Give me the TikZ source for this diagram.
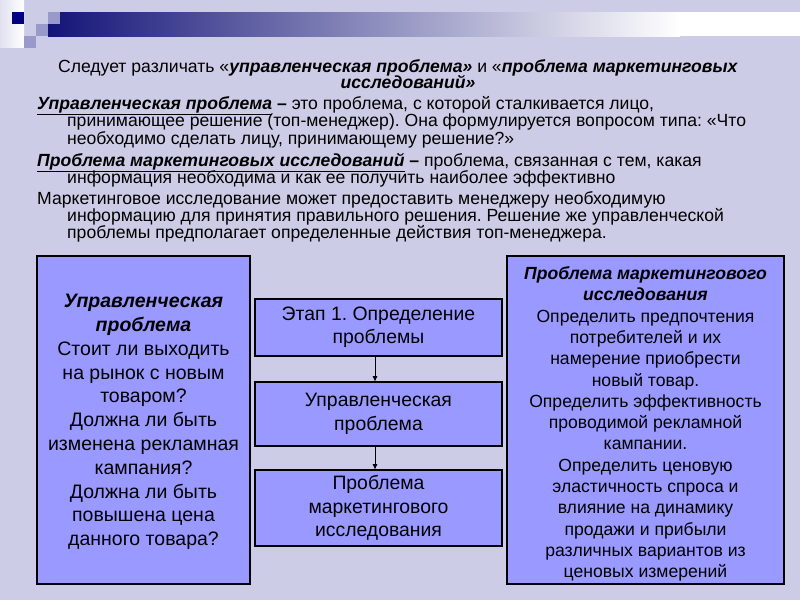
\documentclass[tikz,border=0pt]{standalone}
\usepackage{fontspec}
\setmainfont{Liberation Sans}
\usetikzlibrary{arrows.meta}
\frenchspacing
\definecolor{bg}{RGB}{204,204,230}
\definecolor{boxfill}{RGB}{153,153,255}
\definecolor{navyblue}{RGB}{20,20,120}
\definecolor{sqnavy}{RGB}{0,0,128}
\definecolor{sqpurple}{RGB}{153,153,204}
\newcommand{\bi}[1]{\textbf{\textit{#1}}}
\begin{document}
\begin{tikzpicture}[x=1pt,y=-1pt,
  toptext/.style={anchor=base west,inner sep=0pt,font=\fontsize{17.6}{20}\selectfont},
  topcenter/.style={anchor=base,inner sep=0pt,font=\fontsize{17.6}{20}\selectfont},
  bigbox/.style={draw=black,line width=2.6pt,fill=boxfill,inner sep=0pt},
  midbox/.style={draw=black,line width=1.8pt,fill=boxfill,inner sep=0pt,minimum width=247pt,align=center,font=\fontsize{19.4}{23.4}\selectfont},
  flow/.style={draw=black,line width=0.8pt,-{Triangle[length=5pt,width=4.5pt]}}
]
\useasboundingbox (0,0) rectangle (800,600);
\fill[bg] (0,0) rectangle (800,600);
% decoration
\shade[left color=bg!60!white,right color=white] (0,0) rectangle (24,47);
\shade[left color=navyblue,right color=white] (48,12) rectangle (680,36);
\fill[white] (680,12) rectangle (800,36);
\fill[sqnavy] (12,12) rectangle (24,24);
\fill[sqpurple] (48,12) rectangle (60,24);
\fill[sqpurple] (36,24) rectangle (48,36);
\fill[sqpurple] (24,36) rectangle (36,48);
% top text
\node[topcenter] (t1) at (398,72) {Следует различать «\bi{управленческая проблема»} и «\bi{проблема маркетинговых}};
\node[topcenter] (t2) at (408,88) {\bi{исследований»}};
\node[toptext] (t3) at (37,109) {\underline{\bi{Управленческая проблема}}\textbf{ –} это проблема, с которой сталкивается лицо,};
\node[toptext] (t4) at (67,126) {принимающее решение (топ-менеджер). Она формулируется вопросом типа: «Что};
\node[toptext] (t5) at (67,144) {необходимо сделать лицу, принимающему решение?»};
\node[toptext] (t6) at (37,166) {\underline{\bi{Проблема маркетинговых исследований}}\textbf{ –} проблема, связанная с тем, какая};
\node[toptext] (t7) at (67,183) {информация необходима и как ее получить наиболее эффективно};
\node[toptext] (t8) at (37,204) {Маркетинговое исследование может предоставить менеджеру необходимую};
\node[toptext] (t9) at (67,221) {информацию для принятия правильного решения. Решение же управленческой};
\node[toptext] (t10) at (67,238) {проблемы предполагает определенные действия топ-менеджера.};
% big boxes
\node[bigbox,minimum width=213pt,minimum height=328pt] (left) at (143.5,420) {};
\node[align=center,font=\fontsize{19.5}{23.8}\selectfont] (lefttext) at (143.5,422) {\bi{Управленческая}\\\bi{проблема}\\Стоит ли выходить\\на рынок с новым\\товаром?\\Должна ли быть\\изменена рекламная\\кампания?\\Должна ли быть\\повышена цена\\данного товара?};
\node[bigbox,minimum width=277pt,minimum height=328pt] (right) at (645.5,420) {};
\node[align=center,font=\fontsize{17.6}{21.3}\selectfont] (righttext) at (645.5,424) {\bi{Проблема маркетингового}\\\bi{исследования}\\Определить предпочтения\\потребителей и их\\намерение приобрести\\новый товар.\\Определить эффективность\\проводимой рекламной\\кампании.\\Определить ценовую\\эластичность спроса и\\влияние на динамику\\продажи и прибыли\\различных вариантов из\\ценовых измерений};
% middle boxes
\node[midbox,minimum height=57pt] (m1) at (378.5,327.5) {Этап 1. Определение\\проблемы};
\node[midbox,minimum height=64pt] (m2) at (378.5,414) {Управленческая\\проблема};
\node[midbox,minimum height=76pt] (m3) at (378.5,508) {Проблема\\маркетингового\\исследования};
\draw[flow] ([xshift=-3.5pt]m1.south) -- ([xshift=-3.5pt]m2.north);
\draw[flow] ([xshift=-3.5pt]m2.south) -- ([xshift=-3.5pt]m3.north);
\end{tikzpicture}
\end{document}
